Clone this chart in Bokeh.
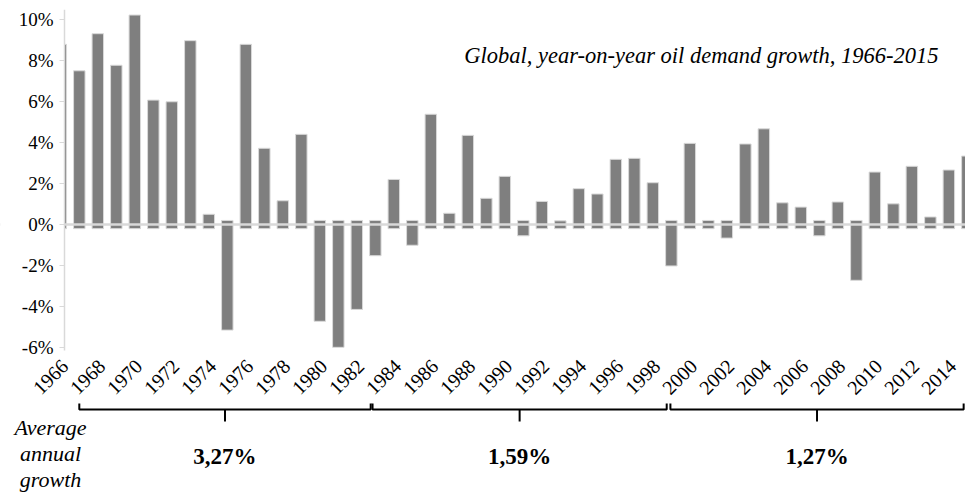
from math import pi
from bokeh.plotting import figure
from bokeh.models import (Range1d, FixedTicker, CustomJSTickFormatter, PrintfTickFormatter,
                          Span, Label, BoxAnnotation, ColumnDataSource)
from bokeh.embed import file_html
from bokeh.resources import INLINE
from bokeh.core.properties import value

# ---------------- data ----------------
years = list(range(1966, 2016))
growth = [8.79, 7.50, 9.31, 7.77, 10.22, 6.07, 5.99, 8.97, 0.50, -5.15,
          8.79, 3.72, 1.16, 4.40, -4.72, -5.99, -4.14, -1.52, 2.20, -1.01,
          5.38, 0.55, 4.35, 1.28, 2.35, -0.55, 1.13, 0.18, 1.75, 1.49,
          3.18, 3.23, 2.04, -2.02, 3.96, 0.20, -0.66, 3.93, 4.67, 1.06,
          0.85, -0.55, 1.10, -2.72, 2.56, 1.01, 2.84, 0.37, 2.66, 3.34]
tick_years = list(range(1966, 2015, 2))
y_ticks = [-6, -4, -2, 0, 2, 4, 6, 8, 10]
title_text = "Global, year-on-year oil demand growth, 1966-2015"
period_start = [1967.0, 1982.85, 1998.95]
period_end = [1982.75, 1998.75, 2014.8]
period_avg = ["3,27%", "1,59%", "1,27%"]
avg_label = ["Average", "annual", "growth"]

# ---------------- style / layout ----------------
W, H = 965, 492
SERIF = "'Liberation Serif', 'Times New Roman', serif"
BAR = "#7f7f7f"
GRID = "#d9d9d9"
overhang = 0.2
axis_px = 64            # horizontal pixel of the value axis
top_px = 9              # top of the value axis
x_start, x_end = 1966.2, 2014.9     # visible span of years right of the axis
y_top, y_bottom = 10.49, -6.15      # visible span of the value axis
px_per_year = (W - axis_px) / (x_end - x_start)
px_per_pct = 20.5
x_left = x_start - axis_px / px_per_year
y_low = y_top - (H - top_px) / px_per_pct

def dx(px):   # horizontal canvas pixel -> data
    return x_left + px / px_per_year

def dy(px):   # vertical canvas pixel (from top) -> data
    return y_top - (px - top_px) / px_per_pct

bottoms = [-overhang if v >= 0 else overhang for v in growth]
src = ColumnDataSource(dict(x=years, top=growth, bottom=bottoms))

p = figure(width=W, height=H,
           x_range=Range1d(x_left, x_end), y_range=Range1d(y_low, y_top),
           output_backend="svg", toolbar_location=None,
           min_border_left=0, min_border_right=0,
           min_border_top=top_px, min_border_bottom=0)
p.outline_line_color = None
p.xgrid.visible = False
p.ygrid.visible = False

p.vbar(x="x", top="top", bottom="bottom", width=0.62, source=src,
       fill_color=BAR, line_color=GRID, line_width=1)

p.add_layout(Span(location=0, dimension="width", line_color=GRID, line_width=2.5, level="glyph"))
# bars are cut off at the value axis
p.add_layout(BoxAnnotation(right=x_start, bottom=-1.0, top=y_top, fill_color="white",
                           fill_alpha=1.0, line_color=None, level="glyph"))

# y axis
ya = p.yaxis[0]
ya.fixed_location = x_start
ya.bounds = (y_bottom, y_top)
ya.ticker = FixedTicker(ticks=y_ticks)
ya.formatter = PrintfTickFormatter(format="%d%%")
ya.axis_line_color = GRID
ya.axis_line_width = 1.5
ya.major_tick_line_color = GRID
ya.major_tick_out = 5
ya.major_tick_in = 0
ya.minor_tick_line_color = None
ya.major_label_text_font = SERIF
ya.major_label_text_font_size = "19px"
ya.major_label_text_color = "black"
ya.major_label_standoff = 6

# x axis (tick positions nudged so the first label stays right of the value axis)
xa = p.xaxis[0]
xa.fixed_location = y_bottom
xa.bounds = (x_start, x_end)
xa.ticker = FixedTicker(ticks=[y + 0.21 for y in tick_years])
xa.formatter = CustomJSTickFormatter(code="return Math.floor(tick).toString()")
xa.axis_line_color = None
xa.major_tick_line_color = None
xa.minor_tick_line_color = None
xa.major_tick_out = 0
xa.major_label_orientation = pi / 4
xa.major_label_text_font = SERIF
xa.major_label_text_font_size = "20px"
xa.major_label_text_color = "black"
xa.major_label_standoff = 12

p.add_layout(Label(x=dx(938), y=dy(55), text=title_text, text_align="right",
                   text_baseline="middle", text_font=SERIF, text_font_style="italic",
                   text_font_size="22.5px", text_color="black"))

# ---------------- brackets with period averages ----------------
mids = [(s + e) / 2 for s, e in zip(period_start, period_end)]
y_br, y_br_end, y_br_mid = dy(409), dy(403), dy(421)
p.multi_line(xs=[[s, s, e, e] for s, e in zip(period_start, period_end)],
             ys=[[y_br_end, y_br, y_br, y_br_end] for _ in period_start],
             line_color="black", line_width=2)
p.segment(x0=mids, y0=[y_br] * 3, x1=mids, y1=[y_br_mid] * 3,
          line_color="black", line_width=2)
src_avg = ColumnDataSource(dict(x=mids, y=[dy(456)] * 3, t=period_avg))
p.text(x="x", y="y", text="t", source=src_avg, text_align="center", text_baseline="middle",
       text_font=value(SERIF), text_font_size="23px", text_font_style="bold",
       text_color="black")
for i, t in enumerate(avg_label):
    p.add_layout(Label(x=dx(50), y=dy(427 + 26 * i), text=t,
                       text_align="center", text_baseline="middle",
                       text_font=SERIF, text_font_style="italic",
                       text_font_size="22px", text_color="black"))

open("out.html", "w").write(file_html(p, INLINE))
